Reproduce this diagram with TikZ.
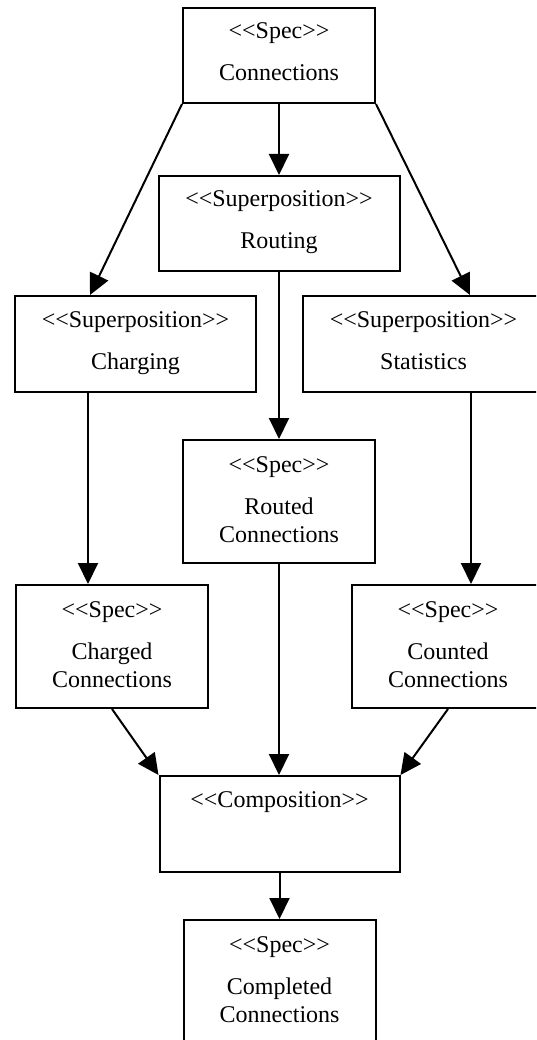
\documentclass[tikz,border=0pt]{standalone}
\usepackage{fontspec}
\newfontfamily\tnr{Liberation Serif}
\usetikzlibrary{arrows.meta}
\newcommand\mytop{\rule{0pt}{20pt}}
\newcommand\mybotA{\rule[-12pt]{0pt}{12pt}}
\newcommand\mybotB{\rule[-8pt]{0pt}{8pt}}
\tikzset{
  box/.style={draw, line width=2pt, rectangle, inner sep=0pt, align=center,
    font=\tnr\fontsize{24pt}{28.8pt}\selectfont},
  twoline/.style={box, minimum height=96pt},
  threeline/.style={box, minimum height=123pt},
  specbox/.style={minimum width=192pt},
  supbox/.style={minimum width=241pt},
  arr/.style={line width=2pt, -{Triangle[length=21pt,width=20pt]}}
}
\begin{document}
\begin{tikzpicture}[x=1pt,y=-1pt]
\useasboundingbox (0,0) rectangle (536,1040);
\clip (0,0) rectangle (536,1040);
\fill[white] (0,0) rectangle (536,1040);

\node[twoline, specbox, minimum height=95pt] (conn) at (279,55.5)
  {\mytop<<Spec>>\\[13.2pt]Connections\mybotA};
\node[twoline, supbox, minimum height=95pt] (routing) at (279,223.5)
  {\mytop<<Superposition>>\\[13.2pt]Routing\mybotA};
\node[twoline, supbox] (charging) at (135.5,344)
  {\mytop<<Superposition>>\\[13.2pt]Charging\mybotA};
\node[twoline, supbox] (statistics) at (423.5,344)
  {\mytop<<Superposition>>\\[13.2pt]Statistics\mybotA};
\node[threeline, specbox] (routed) at (279,501.5)
  {\mytop<<Spec>>\\[13.2pt]Routed\\Connections\mybotB};
\node[threeline, specbox] (charged) at (112,646.5)
  {\mytop<<Spec>>\\[13.2pt]Charged\\Connections\mybotB};
\node[threeline, specbox] (counted) at (448,646.5)
  {\mytop<<Spec>>\\[13.2pt]Counted\\Connections\mybotB};
\node[twoline, minimum width=240pt] (composition) at (279.5,824)
  {\mytop<<Composition>>\\[13.2pt]\mybotA};
\node[threeline, specbox] (completed) at (279.5,981.5)
  {\mytop<<Spec>>\\[13.2pt]Completed\\Connections\mybotB};

\draw[arr] (conn.south) -- (routing.north);
\draw[arr] (conn.south west) -- ([xshift=-45.5pt]charging.north);
\draw[arr] (conn.south east) -- ([xshift=46.5pt]statistics.north);
\draw[arr] (routing.south) -- (routed.north);
\draw[arr] ([xshift=-47.5pt]charging.south) -- ([xshift=-24pt]charged.north);
\draw[arr] ([xshift=47.5pt]statistics.south) -- ([xshift=23pt]counted.north);
\draw[arr] (charged.south) -- (composition.north west);
\draw[arr] (routed.south) -- (routed.south |- composition.north);
\draw[arr] (counted.south) -- (composition.north east);
\draw[arr] (composition.south) -- (completed.north);
\end{tikzpicture}
\end{document}
